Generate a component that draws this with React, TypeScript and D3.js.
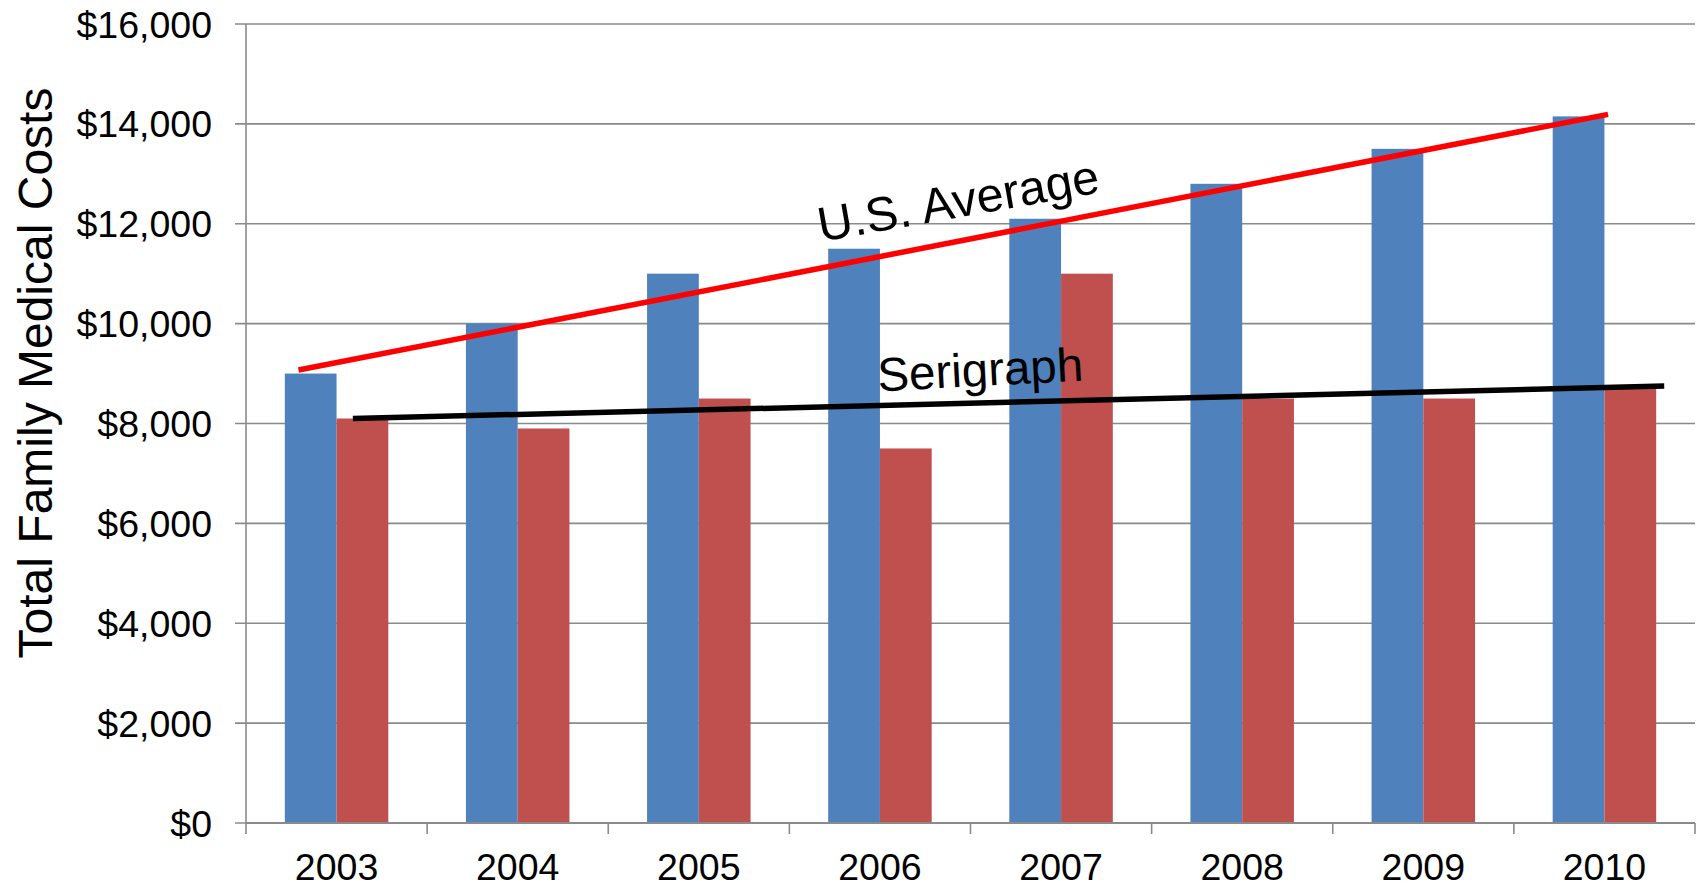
import * as d3 from "d3";

// categories and values
const years = ["2003", "2004", "2005", "2006", "2007", "2008", "2009", "2010"];
const usAverage = [9000, 10000, 11000, 11500, 12100, 12800, 13500, 14150];
const serigraph = [8100, 7900, 8500, 7500, 11000, 8500, 8500, 8700];
const yTicks = [0, 2000, 4000, 6000, 8000, 10000, 12000, 14000, 16000];

// hand-drawn trend lines, x in category units (0 = left edge of 2003)
const usAvgTrend = [
  { pos: 0.29, value: 9070 },
  { pos: 7.52, value: 14190 },
];
const serigraphTrend = [
  { pos: 0.59, value: 8100 },
  { pos: 7.83, value: 8750 },
];

const series = ["usAverage", "serigraph"];
const colors: Record<string, string> = { usAverage: "#4F81BD", serigraph: "#C0504D" };

const width = 1696;
const height = 887;
const margin = { top: 24, right: 1, bottom: 64, left: 246 };
const font = "'Liberation Sans', Arial, sans-serif";

export default function App() {
  const x = d3
    .scaleBand()
    .domain(years)
    .range([margin.left, width - margin.right])
    .paddingInner(0)
    .paddingOuter(0);

  const x1 = d3
    .scaleBand()
    .domain(series)
    .range([0, x.bandwidth()])
    .paddingInner(0)
    .paddingOuter(0.75);

  const y = d3
    .scaleLinear()
    .domain([0, 16000])
    .range([height - margin.bottom, margin.top]);

  const xPos = d3
    .scaleLinear()
    .domain([0, years.length])
    .range([margin.left, width - margin.right]);

  const line = d3
    .line<{ pos: number; value: number }>()
    .x((d) => xPos(d.pos))
    .y((d) => y(d.value));

  const fmt = (v: number) => "$" + d3.format(",")(v);
  const y0 = y(0);

  const boundaries = d3.range(years.length + 1).map((i) => xPos(i));

  return (
    <svg
      width={width}
      height={height}
      style={{ position: "absolute", left: 0, top: 0, background: "#fff" }}
      fontFamily={font}
    >
      {/* gridlines */}
      {yTicks.map((t) => (
        <line
          key={"g" + t}
          x1={margin.left - 11}
          x2={width - margin.right}
          y1={y(t)}
          y2={y(t)}
          stroke="#8a8a8a"
          strokeWidth={1.6}
        />
      ))}

      {/* bars */}
      {years.map((yr, i) => (
        <g key={yr} transform={`translate(${x(yr)},0)`}>
          {series.map((s) => {
            const v = s === "usAverage" ? usAverage[i] : serigraph[i];
            return (
              <rect
                key={s}
                x={x1(s)}
                y={y(v)}
                width={x1.bandwidth()}
                height={y0 - y(v)}
                fill={colors[s]}
              />
            );
          })}
        </g>
      ))}

      {/* axes */}
      <line x1={margin.left} x2={margin.left} y1={y(16000)} y2={y0} stroke="#8a8a8a" strokeWidth={1.6} />
      <line x1={margin.left} x2={width - margin.right} y1={y0} y2={y0} stroke="#8a8a8a" strokeWidth={2} />
      {boundaries.map((b, i) => (
        <line key={"t" + i} x1={b} x2={b} y1={y0} y2={y0 + 11} stroke="#8a8a8a" strokeWidth={1.6} />
      ))}

      {/* y tick labels */}
      {yTicks.map((t) => (
        <text key={"l" + t} x={212} y={y(t)} dy="0.36em" textAnchor="end" fontSize={37.5} fill="#000">
          {fmt(t)}
        </text>
      ))}

      {/* x tick labels */}
      {years.map((yr) => (
        <text
          key={"x" + yr}
          x={(x(yr) ?? 0) + x.bandwidth() / 2}
          y={880}
          textAnchor="middle"
          fontSize={37.5}
          fill="#000"
        >
          {yr}
        </text>
      ))}

      {/* y axis title */}
      <text
        transform={`translate(52,373) rotate(-90)`}
        textAnchor="middle"
        fontSize={48}
        fill="#000"
      >
        Total Family Medical Costs
      </text>

      {/* trend lines */}
      <path d={line(usAvgTrend) ?? ""} fill="none" stroke="#FF0000" strokeWidth={5.5} />
      <path d={line(serigraphTrend) ?? ""} fill="none" stroke="#000" strokeWidth={5.5} />

      {/* annotations */}
      <text transform="translate(961,217) rotate(-10)" textAnchor="middle" fontSize={48.5} fill="#000">
        U.S. Average
      </text>
      <text transform="translate(981,386) rotate(-3)" textAnchor="middle" fontSize={47.5} fill="#000">
        Serigraph
      </text>
    </svg>
  );
}
